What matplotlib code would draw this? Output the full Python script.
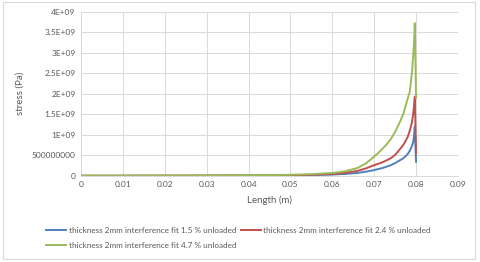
import matplotlib.pyplot as plt
from matplotlib.patches import Rectangle

plt.rcParams['font.family'] = ['Lato', 'DejaVu Sans']

# length (m)
length = [0, 0.01, 0.02, 0.03, 0.04, 0.05, 0.055, 0.06, 0.063, 0.066, 0.068, 0.07, 0.071,
          0.072, 0.073, 0.074, 0.075, 0.076, 0.077, 0.0775, 0.078, 0.0785, 0.079, 0.0793,
          0.0795, 0.0797, 0.08]

# stress (Pa)
stress_15 = [0.001, 0.001, 0.002, 0.003, 0.005, 0.01, 0.016, 0.03, 0.045, 0.07, 0.1, 0.14, 0.165,
             0.19, 0.225, 0.26, 0.31, 0.37, 0.43, 0.48, 0.53, 0.61, 0.72, 0.82,
             0.95, 1.2, 0.34]
stress_24 = [0.001, 0.002, 0.003, 0.005, 0.008, 0.015, 0.025, 0.045, 0.07, 0.12, 0.18, 0.26, 0.295,
             0.33, 0.38, 0.43, 0.51, 0.63, 0.76, 0.85, 0.95, 1.1, 1.3, 1.5,
             1.68, 1.93, 0.55]
stress_47 = [0.002, 0.003, 0.005, 0.008, 0.013, 0.025, 0.04, 0.07, 0.11, 0.19, 0.3, 0.47, 0.56,
             0.66, 0.77, 0.9, 1.07, 1.28, 1.52, 1.7, 1.88, 2.05, 2.5, 2.9,
             3.2, 3.72, 1.9]
stress_15 = [v * 1e9 for v in stress_15]
stress_24 = [v * 1e9 for v in stress_24]
stress_47 = [v * 1e9 for v in stress_47]

labels = ['thickness 2mm interference fit 1.5 % unloaded',
          'thickness 2mm interference fit 2.4 % unloaded',
          'thickness 2mm interference fit 4.7 % unloaded']

x_ticks = [0, 0.01, 0.02, 0.03, 0.04, 0.05, 0.06, 0.07, 0.08, 0.09]
x_labels = ['0', '0.01', '0.02', '0.03', '0.04', '0.05', '0.06', '0.07', '0.08', '0.09']
y_ticks = [0, 0.5e9, 1e9, 1.5e9, 2e9, 2.5e9, 3e9, 3.5e9, 4e9]
y_labels = ['0', '500000000', '1E+09', '1.5E+09', '2E+09', '2.5E+09', '3E+09', '3.5E+09', '4E+09']

fig = plt.figure(figsize=(4.8, 2.62), dpi=100)
ax = fig.add_axes([0.169, 0.329, 0.785, 0.626])

txt = '#595959'
l1, = ax.plot(length, stress_15, color='#4F81BD', linewidth=1.4, label=labels[0])
l2, = ax.plot(length, stress_24, color='#C0504D', linewidth=1.4, label=labels[1])
l3, = ax.plot(length, stress_47, color='#9BBB59', linewidth=1.4, label=labels[2])

ax.set_xlim(0, 0.09)
ax.set_ylim(0, 4e9)
ax.set_xticks(x_ticks, x_labels)
ax.set_yticks(y_ticks, y_labels)
ax.tick_params(length=0, labelsize=6, labelcolor=txt, pad=4)
ax.grid(color='#D9D9D9', linewidth=0.7)
ax.set_axisbelow(True)
for s in ['top', 'right', 'left']:
    ax.spines[s].set_visible(False)
ax.spines['bottom'].set_color('#D9D9D9')
ax.spines['bottom'].set_linewidth(0.7)

ax.set_xlabel('Length (m)', fontsize=7, color=txt, labelpad=5)
ax.set_ylabel('stress (Pa)', fontsize=7, color=txt, labelpad=5)

fig.legend([l1, l3, l2], [labels[0], labels[2], labels[1]], ncol=2, loc='upper left',
           bbox_to_anchor=(0.088, 0.148), frameon=False, fontsize=5.9, labelcolor=txt,
           borderpad=0, handlelength=2.4, handletextpad=0.35, columnspacing=0.55,
           labelspacing=0.95)

fig.patches.append(Rectangle((3 / 480, 3 / 262), 472 / 480, 257 / 262, transform=fig.transFigure,
                             fill=False, edgecolor='#D9D9D9', linewidth=0.8))

fig.savefig('out.png', dpi=100)
